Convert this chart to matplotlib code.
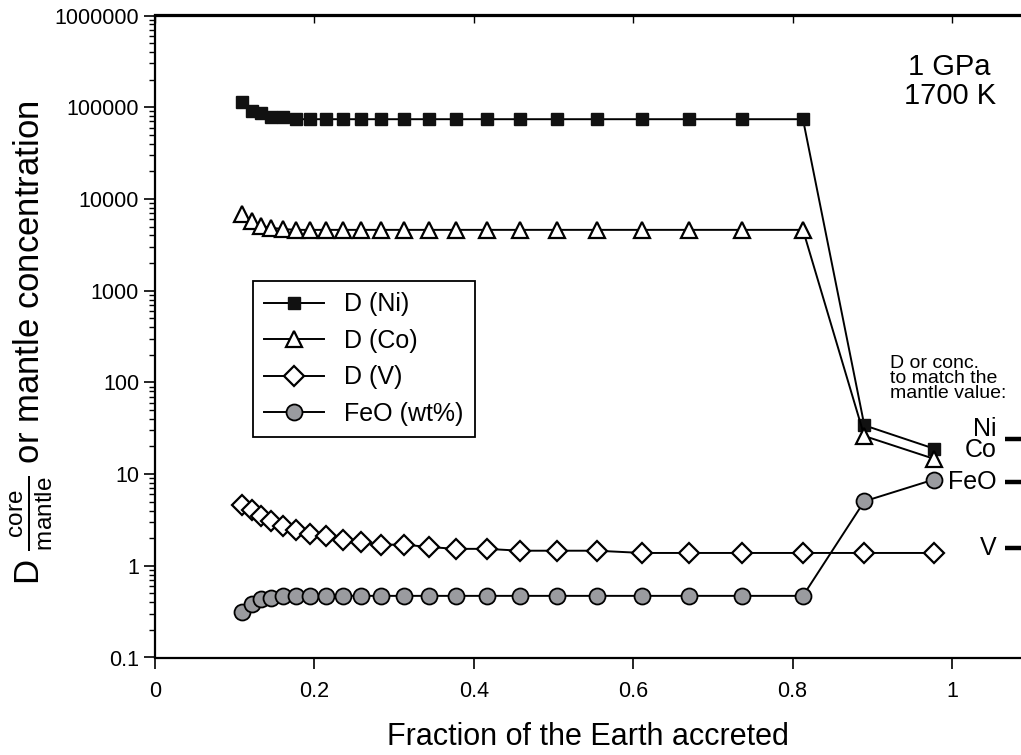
import numpy as np
import matplotlib
matplotlib.use('Agg')
import matplotlib.pyplot as plt
from matplotlib.ticker import LogLocator, FuncFormatter, NullFormatter

plt.rcParams['font.family'] = ['Liberation Sans', 'DejaVu Sans']
plt.rcParams['mathtext.fontset'] = 'custom'
plt.rcParams['mathtext.rm'] = 'Liberation Sans'

# fraction of the Earth accreted
frac = [0.109, 0.122, 0.133, 0.145, 0.160, 0.177, 0.194, 0.215, 0.236, 0.259,
        0.284, 0.313, 0.344, 0.378, 0.416, 0.458, 0.505, 0.554, 0.611, 0.670,
        0.737, 0.813, 0.890, 0.977]

d_ni = [113000, 92000, 86000, 79000, 79000, 74000, 74000, 74000, 74000, 74000,
        74000, 74000, 74000, 74000, 74000, 74000, 74000, 74000, 74000, 74000,
        74000, 74000, 34, 19]
d_co = [6900, 5700, 5100, 4850, 4700, 4600, 4600, 4600, 4600, 4600,
        4600, 4600, 4600, 4600, 4600, 4600, 4600, 4600, 4600, 4600,
        4600, 4600, 26, 14.7]
d_v = [4.65, 4.1, 3.47, 3.05, 2.74, 2.48, 2.24, 2.09, 1.92, 1.80,
       1.70, 1.70, 1.60, 1.53, 1.53, 1.46, 1.46, 1.46, 1.38, 1.38,
       1.38, 1.38, 1.38, 1.38]
feo = [0.31, 0.38, 0.43, 0.45, 0.47, 0.47, 0.47, 0.47, 0.47, 0.47,
       0.47, 0.47, 0.47, 0.47, 0.47, 0.47, 0.47, 0.47, 0.47, 0.47,
       0.47, 0.47, 5.05, 8.7]

# values needed to match the mantle
mantle_labels = ['Ni\nCo', 'FeO', 'V']
mantle_vals = [24, 8.1, 1.57]

fig = plt.figure(figsize=(10.21, 7.55), dpi=100)
ax = fig.add_axes([155/1021, (755-657.5)/755, (1021-155)/1021, 642/755])

lw = 1.4
ax.plot(frac, d_ni, '-s', color='black', lw=lw, ms=9, mfc='#111111', mec='#111111', label='D (Ni)')
ax.plot(frac, d_co, '-^', color='black', lw=lw, ms=11.5, mfc='white', mec='black', mew=1.6, label='D (Co)')
ax.plot(frac, d_v, '-D', color='black', lw=lw, ms=10, mfc='white', mec='black', mew=1.6, label='D (V)')
ax.plot(frac, feo, '-o', color='black', lw=lw, ms=11.5, mfc='#9a9b9f', mec='black', mew=1.3, label='FeO (wt%)')

ax.set_yscale('log')
ax.set_ylim(0.1, 1e6)
ax.set_xlim(0, (1021-155)/797)
ax.set_xticks([0, 0.2, 0.4, 0.6, 0.8, 1])
ax.xaxis.set_major_formatter(FuncFormatter(lambda v, p: f'{v:g}'))
ax.yaxis.set_major_locator(LogLocator(base=10, numticks=20))
ax.yaxis.set_minor_locator(LogLocator(base=10, subs=np.arange(2, 10), numticks=20))
ax.yaxis.set_minor_formatter(NullFormatter())
ax.yaxis.set_major_formatter(FuncFormatter(lambda v, p: f'{v:.0f}' if v >= 1 else f'{v:g}'))

for s in ['left', 'bottom', 'top']:
    ax.spines[s].set_linewidth(1.6)
ax.spines['right'].set_visible(False)
ax.tick_params(axis='both', which='major', direction='out', length=8, width=1.2, labelsize=15.5)
ax.tick_params(axis='y', which='minor', direction='out', length=4.5, width=1.0)
ax.tick_params(axis='x', pad=9)

top = ax.secondary_xaxis('top')
top.set_xticks([0, 0.2, 0.4, 0.6, 0.8, 1])
top.tick_params(direction='in', length=6, width=1.0, labeltop=False)
top.spines['top'].set_linewidth(1.6)

ax.set_xlabel('Fraction of the Earth accreted', fontsize=22, labelpad=14)
ax.set_ylabel(r'D $\frac{\mathrm{core}}{\mathrm{mantle}}$ or mantle concentration', fontsize=25)
ax.yaxis.set_label_coords(-0.115, 0.49)

ax.text(0.997, 1.9e5, '1 GPa\n1700 K', ha='center', va='center', fontsize=21, linespacing=1.05)

ax.text(0.922, 110, 'D or conc.\nto match the\nmantle value:', ha='left', va='center',
        fontsize=14, linespacing=0.85)

for lab, v in zip(mantle_labels, mantle_vals):
    ax.plot([1.066, 1.09], [v, v], color='black', lw=3.2, solid_capstyle='butt', clip_on=False)
    ax.text(1.056, v, lab, ha='right', va='center', fontsize=18, linespacing=0.85)

leg = ax.legend(loc='upper left', bbox_to_anchor=((253-155)/866, (657.5-281)/642),
                borderaxespad=0, fontsize=18, handlelength=2.4, handletextpad=0.8,
                borderpad=0.45, labelspacing=0.5, fancybox=False, framealpha=1)
leg.get_frame().set_edgecolor('black')
leg.get_frame().set_linewidth(1.3)

fig.savefig('out.png', dpi=100)
